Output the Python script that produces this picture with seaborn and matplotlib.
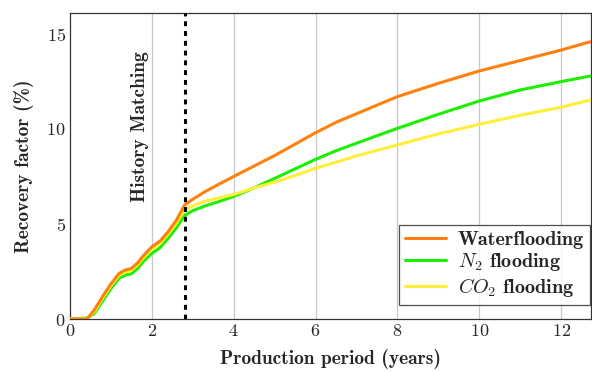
import numpy as np
import pandas as pd
import matplotlib
matplotlib.use("Agg")
import matplotlib.pyplot as plt
import seaborn as sns
from matplotlib.lines import Line2D

years = [0, 0.42, 0.6, 0.8, 1.0, 1.2, 1.35, 1.5, 1.65, 1.8, 2.0, 2.2, 2.4, 2.6, 2.8,
         3.0, 3.3, 3.6, 4, 4.5, 5, 5.5, 6, 6.5, 7, 8, 9, 10, 11, 12, 12.73]
rf_wf = [0, 0, 0.5, 1.2, 1.85, 2.4, 2.58, 2.66, 2.95, 3.35, 3.8, 4.1, 4.6, 5.2, 6.0,
         6.3, 6.7, 7.05, 7.5, 8.05, 8.6, 9.2, 9.8, 10.35, 10.8, 11.7, 12.4, 13.05, 13.6, 14.15, 14.6]
rf_n2 = [0, 0.05, 0.3, 0.95, 1.6, 2.15, 2.3, 2.38, 2.65, 3.05, 3.45, 3.75, 4.25, 4.8, 5.45,
         5.7, 5.95, 6.15, 6.45, 6.9, 7.4, 7.9, 8.4, 8.85, 9.25, 10.03, 10.77, 11.47, 12.05, 12.49, 12.79]
rf_co2 = [0, 0.02, 0.4, 1.1, 1.75, 2.3, 2.48, 2.56, 2.85, 3.25, 3.68, 3.98, 4.48, 5.05, 5.75,
          5.95, 6.2, 6.35, 6.55, 6.9, 7.2, 7.55, 7.93, 8.25, 8.58, 9.16, 9.74, 10.24, 10.72, 11.14, 11.53]

series_labels = [r"Waterflooding", r"$N_2$ flooding", r"$CO_2$ flooding"]
series_colors = ["#ff800e", "#1cf000", "#ffee3a"]
history_end = 2.8
x_ticks = [0, 2, 4, 6, 8, 10, 12]
y_ticks = [0, 5, 10, 15]

sns.set_style("white")
plt.rcParams["font.family"] = ["cmr10", "DejaVu Serif"]
plt.rcParams["mathtext.fontset"] = "cm"
plt.rcParams["axes.formatter.use_mathtext"] = True

BOLD = ["cmb10", "DejaVu Serif"]
REG = ["cmr10", "DejaVu Serif"]

frames = []
for ys, lab in zip([rf_wf, rf_n2, rf_co2], series_labels):
    frames.append(pd.DataFrame({"year": years, "rf": ys, "series": lab}))
df = pd.concat(frames, ignore_index=True)

fig = plt.figure(figsize=(5.92, 3.72), dpi=100)
ax = fig.add_axes([70/592, 53/372, 521/592, 306/372])

for x in x_ticks[1:]:
    ax.axvline(x, color="#c8c8c8", lw=0.9, zorder=0)

sns.lineplot(data=df, x="year", y="rf", hue="series", hue_order=series_labels,
             palette=series_colors, lw=2.2, ax=ax, legend=False, sort=False)
lines = ax.get_lines()[-3:]
lines[0].set_zorder(5)
lines[1].set_zorder(3)
lines[2].set_zorder(4)
for ln in lines:
    ln.set_solid_joinstyle("round")
    ln.set_solid_capstyle("butt")

ax.axvline(history_end, color="black", lw=2.2, ls=(0, (1.6, 1.6)), zorder=6)

ax.text(1.72, 10.1, "History Matching", rotation=90, ha="center", va="center",
        fontsize=14, family=BOLD)

ax.set_xlim(0, 12.73)
ax.set_ylim(0, 16.1)
ax.set_xticks(x_ticks)
ax.set_yticks(y_ticks)
ax.tick_params(axis="both", labelsize=13, direction="in", length=3, width=0.8, pad=3)
for lab in ax.get_xticklabels() + ax.get_yticklabels():
    lab.set_family(REG)
ax.set_xlabel("Production period (years)", fontsize=14, family=BOLD, labelpad=7)
ax.set_ylabel("Recovery factor (%)", fontsize=14, family=BOLD, labelpad=9)
for s in ax.spines.values():
    s.set_color("#333333")
    s.set_linewidth(0.9)

handles = [Line2D([0], [0], color=c, lw=2.2) for c in series_colors]
leg = ax.legend(handles, series_labels, loc="lower right",
                bbox_to_anchor=(0.998, 0.046), borderaxespad=0.0,
                prop={"family": BOLD, "size": 14.5},
                frameon=True, fancybox=False, edgecolor="#222222",
                handlelength=2.0, handletextpad=0.6,
                labelspacing=0.12, borderpad=0.3)
leg.get_frame().set_linewidth(0.9)

fig.savefig("out.png", dpi=100)
